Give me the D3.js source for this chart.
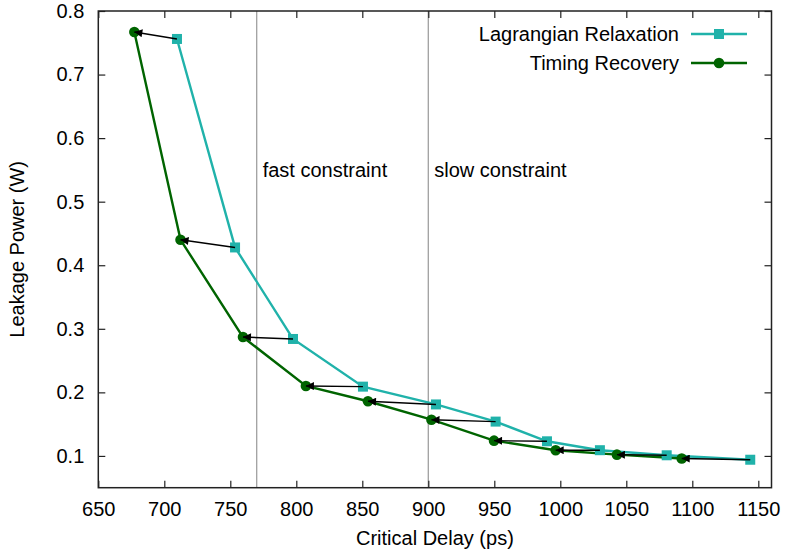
<!DOCTYPE html>
<html>
<head>
<meta charset="utf-8">
<script src="https://cdn.jsdelivr.net/npm/d3@7"></script>
<style>
  html, body { margin: 0; padding: 0; background: #fff; }
  svg { display: block; font-family: "Liberation Sans", Arial, sans-serif; }
</style>
</head>
<body>
<svg id="chart" width="789" height="551"></svg>
<script>
// Critical delay (ps) and leakage power (W) for the two optimisation stages
const lrDelay   = [709.6, 753.6, 797.5, 850.5, 905.8, 951.0, 989.9, 1030.0, 1080.6, 1143.9];
const lrPower   = [0.756, 0.428, 0.284, 0.209, 0.181, 0.154, 0.123, 0.109, 0.101, 0.094];
const trDelay   = [677.3, 712.3, 759.6, 807.3, 854.3, 902.4, 949.8, 996.5, 1042.9, 1092.0];
const trPower   = [0.767, 0.440, 0.287, 0.210, 0.186, 0.157, 0.124, 0.109, 0.102, 0.096];

const xTicks = [650, 700, 750, 800, 850, 900, 950, 1000, 1050, 1100, 1150];
const yTicks = [0.1, 0.2, 0.3, 0.4, 0.5, 0.6, 0.7, 0.8];
const constraints = [
  { delay: 770, label: "fast constraint" },
  { delay: 900, label: "slow constraint" }
];
const seriesNames = ["Lagrangian Relaxation", "Timing Recovery"];

const colLR = "#20b2aa";
const colTR = "#006400";

const svg = d3.select("#chart");
const margin = { left: 98.3, right: 789 - 771.5, top: 11, bottom: 551 - 487.7 };
const W = 789, H = 551;

const x = d3.scaleLinear().domain([650, 1160]).range([margin.left, W - margin.right]);
const y = d3.scaleLinear().domain([0.05, 0.8]).range([H - margin.bottom, margin.top]);

const fontSize = 20;
const tickLen = 7;
const axisColor = "#222";

// arrowhead marker
svg.append("defs").append("marker")
  .attr("id", "head")
  .attr("viewBox", "0 0 10 10")
  .attr("refX", 10).attr("refY", 5)
  .attr("markerWidth", 9).attr("markerHeight", 8)
  .attr("markerUnits", "userSpaceOnUse")
  .attr("orient", "auto")
  .append("path")
  .attr("d", "M0,0 L10,5 L0,10 z")
  .attr("fill", "#000");

// constraint lines and labels
constraints.forEach(c => {
  svg.append("line")
    .attr("x1", x(c.delay)).attr("x2", x(c.delay))
    .attr("y1", y(0.05)).attr("y2", y(0.8))
    .attr("stroke", "#a0a0a0").attr("stroke-width", 1.3);
  svg.append("text")
    .attr("x", x(c.delay) + 6).attr("y", 176.5)
    .attr("font-size", fontSize).attr("fill", "#000")
    .text(c.label);
});

// bottom axis and mirrored top ticks
const xAxisB = d3.axisBottom(x).tickValues(xTicks).tickSize(-tickLen).tickPadding(14).tickFormat(d3.format("d"));
const gxb = svg.append("g").attr("transform", `translate(0,${y(0.05)})`).call(xAxisB);
const xAxisT = d3.axisTop(x).tickValues(xTicks).tickSize(-tickLen).tickFormat("");
const gxt = svg.append("g").attr("transform", `translate(0,${y(0.8)})`).call(xAxisT);

// left axis and mirrored right ticks
const yAxisL = d3.axisLeft(y).tickValues(yTicks).tickSize(-tickLen).tickPadding(14).tickFormat(d3.format(".1f"));
const gyl = svg.append("g").attr("transform", `translate(${x(650)},0)`).call(yAxisL);
const yAxisR = d3.axisRight(y).tickValues(yTicks).tickSize(-tickLen).tickFormat("");
const gyr = svg.append("g").attr("transform", `translate(${x(1160)},0)`).call(yAxisR);

[gxb, gxt, gyl, gyr].forEach(g => {
  g.select(".domain").remove();
  g.selectAll(".tick line").attr("stroke", axisColor).attr("stroke-width", 1.2);
  g.selectAll(".tick text").attr("font-size", fontSize).attr("fill", "#000")
    .attr("font-family", "Liberation Sans, Arial, sans-serif");
});
gxb.selectAll(".tick text").attr("dy", "0.71em");

// frame
svg.append("rect")
  .attr("x", x(650)).attr("y", y(0.8))
  .attr("width", x(1160) - x(650)).attr("height", y(0.05) - y(0.8))
  .attr("fill", "none").attr("stroke", axisColor).attr("stroke-width", 1.5);

// axis titles
svg.append("text")
  .attr("x", (x(650) + x(1160)) / 2).attr("y", 545)
  .attr("text-anchor", "middle").attr("font-size", fontSize)
  .text("Critical Delay (ps)");
svg.append("text")
  .attr("transform", `translate(24,${(y(0.05) + y(0.8)) / 2}) rotate(-90)`)
  .attr("text-anchor", "middle").attr("font-size", fontSize)
  .text("Leakage Power (W)");

const line = d3.line();
const lrPts = lrDelay.map((d, i) => [x(d), y(lrPower[i])]);
const trPts = trDelay.map((d, i) => [x(d), y(trPower[i])]);

// series lines
svg.append("path").attr("d", line(lrPts)).attr("fill", "none")
  .attr("stroke", colLR).attr("stroke-width", 2.4);
svg.append("path").attr("d", line(trPts)).attr("fill", "none")
  .attr("stroke", colTR).attr("stroke-width", 2.4);

// markers
const sq = 10;
svg.append("g").selectAll("rect").data(lrPts).join("rect")
  .attr("x", d => d[0] - sq / 2).attr("y", d => d[1] - sq / 2)
  .attr("width", sq).attr("height", sq).attr("fill", colLR);
svg.append("g").selectAll("circle").data(trPts).join("circle")
  .attr("cx", d => d[0]).attr("cy", d => d[1]).attr("r", 5.3).attr("fill", colTR);

// arrows from each relaxation point to its recovered point
svg.append("g").selectAll("line").data(lrPts).join("line")
  .attr("x1", d => d[0]).attr("y1", d => d[1])
  .attr("x2", (d, i) => trPts[i][0]).attr("y2", (d, i) => trPts[i][1])
  .attr("stroke", "#000").attr("stroke-width", 1.4)
  .attr("marker-end", "url(#head)");

// legend
const legend = [
  { name: seriesNames[0], color: colLR, shape: "square", yy: 34 },
  { name: seriesNames[1], color: colTR, shape: "circle", yy: 63 }
];
legend.forEach(l => {
  svg.append("text").attr("x", 679).attr("y", l.yy).attr("dy", "0.35em")
    .attr("text-anchor", "end").attr("font-size", fontSize).text(l.name);
  svg.append("line").attr("x1", 691).attr("x2", 747).attr("y1", l.yy).attr("y2", l.yy)
    .attr("stroke", l.color).attr("stroke-width", 2.4);
  if (l.shape === "square") {
    svg.append("rect").attr("x", 719 - sq / 2).attr("y", l.yy - sq / 2)
      .attr("width", sq).attr("height", sq).attr("fill", l.color);
  } else {
    svg.append("circle").attr("cx", 719).attr("cy", l.yy).attr("r", 5.3).attr("fill", l.color);
  }
});
</script>
</body>
</html>
